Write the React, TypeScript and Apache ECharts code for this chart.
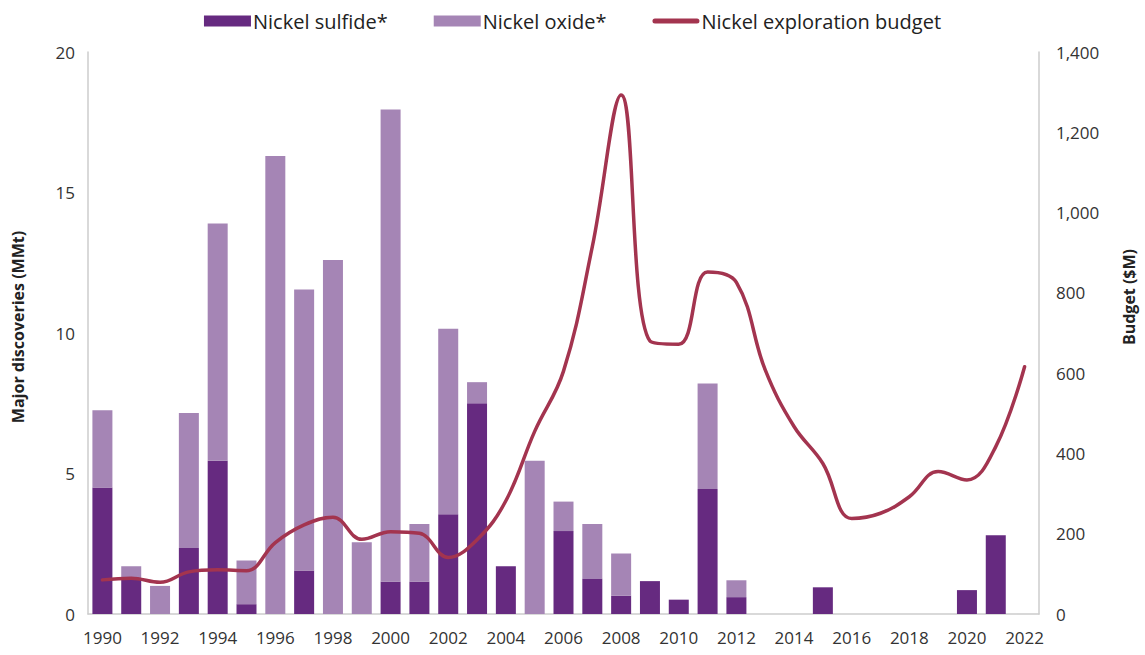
import React, { useEffect, useRef } from "react";
import * as echarts from "echarts";

const years = [
  "1990","1991","1992","1993","1994","1995","1996","1997","1998","1999",
  "2000","2001","2002","2003","2004","2005","2006","2007","2008","2009",
  "2010","2011","2012","2013","2014","2015","2016","2017","2018","2019",
  "2020","2021","2022",
];

const sulfide = [
  4.5, 1.25, 0, 2.35, 5.45, 0.35, 0, 1.55, 0, 0,
  1.15, 1.15, 3.55, 7.5, 1.7, 0, 2.95, 1.25, 0.65, 1.17,
  0.51, 4.45, 0.6, 0, 0, 0.95, 0, 0, 0, 0,
  0.85, 2.8, 0,
];

const oxide = [
  2.75, 0.45, 1.0, 4.8, 8.45, 1.55, 16.3, 10.0, 12.6, 2.55,
  16.8, 2.05, 6.6, 0.75, 0, 5.45, 1.05, 1.95, 1.5, 0,
  0, 3.75, 0.6, 0, 0, 0, 0, 0, 0, 0,
  0, 0, 0,
];

const budget = [
  85, 89, 79, 105, 110, 108, 178, 222, 241, 186,
  205, 201, 141, 185, 282, 455, 605, 915, 1293, 680,
  672, 852, 826, 608, 467, 375, 238, 251, 292, 355,
  334, 417, 616,
];

const FONT = "'Open Sans', Roboto, sans-serif";
const SULFIDE_COLOR = "#662a80";
const OXIDE_COLOR = "#a585b5";
const LINE_COLOR = "#a3344f";

export default function App() {
  const ref = useRef<HTMLDivElement>(null);
  useEffect(() => {
    document.body.style.margin = "0";
    const chart = echarts.init(ref.current!, null, { renderer: "svg" });
    chart.setOption({
      animation: false,
      backgroundColor: "#ffffff",
      textStyle: { fontFamily: FONT },
      legend: {
        top: 6,
        left: "center",
        itemWidth: 47,
        itemHeight: 11,
        itemGap: 46,
        symbolKeepAspect: true,
        textStyle: { fontSize: 20, color: "#222", fontFamily: FONT, padding: [0, 0, 0, -3] },
        data: [
          { name: "Nickel sulfide*", icon: "rect" },
          { name: "Nickel oxide*", icon: "rect" },
          {
            name: "Nickel exploration budget",
            icon: "path://M2.5,0 L44.5,0 A2.5,2.5 0 0 1 44.5,5 L2.5,5 A2.5,2.5 0 0 1 2.5,0 Z",
            itemStyle: { color: LINE_COLOR },
          },
        ],
      },
      grid: { left: 88, right: 100, top: 52, bottom: 41, containLabel: false },
      xAxis: {
        type: "category",
        data: years,
        boundaryGap: true,
        axisLine: { lineStyle: { color: "#cccccc", width: 1.5 } },
        axisTick: { show: false },
        axisLabel: { interval: 1, fontSize: 17, color: "#333", margin: 15, fontFamily: FONT },
      },
      yAxis: [
        {
          type: "value",
          min: 0,
          max: 20,
          interval: 5,
          name: "Major discoveries (MMt)",
          nameLocation: "middle",
          nameGap: 62,
          nameTextStyle: {
            fontSize: 16,
            fontWeight: "bold",
            color: "#222",
            fontFamily: FONT,
            padding: [0, 0, 0, 12],
          },
          axisLine: { show: true, lineStyle: { color: "#cccccc", width: 1.5 } },
          axisTick: { show: false },
          splitLine: { show: false },
          axisLabel: { fontSize: 17, color: "#333", margin: 13, fontFamily: FONT },
        },
        {
          type: "value",
          min: 0,
          max: 1400,
          interval: 200,
          name: "Budget ($M)",
          nameLocation: "middle",
          nameGap: 82,
          nameTextStyle: {
            fontSize: 16,
            fontWeight: "bold",
            color: "#222",
            fontFamily: FONT,
            padding: [0, 0, 0, 72],
          },
          axisLine: { show: true, lineStyle: { color: "#cccccc", width: 1.5 } },
          axisTick: { show: false },
          splitLine: { show: false },
          axisLabel: {
            fontSize: 17,
            color: "#333",
            margin: 17,
            fontFamily: FONT,
            formatter: (v: number) => v.toLocaleString("en-US"),
          },
        },
      ],
      series: [
        {
          name: "Nickel sulfide*",
          type: "bar",
          stack: "disc",
          barWidth: 20,
          itemStyle: { color: SULFIDE_COLOR },
          data: sulfide,
        },
        {
          name: "Nickel oxide*",
          type: "bar",
          stack: "disc",
          barWidth: 20,
          itemStyle: { color: OXIDE_COLOR },
          data: oxide,
        },
        {
          name: "Nickel exploration budget",
          type: "line",
          yAxisIndex: 1,
          smooth: 0.4,
          showSymbol: false,
          symbol: "none",
          lineStyle: { color: LINE_COLOR, width: 3.5, cap: "round", join: "round" },
          itemStyle: { color: LINE_COLOR },
          data: budget,
          z: 5,
        },
      ],
    });
    return () => chart.dispose();
  }, []);
  return <div ref={ref} style={{ width: 1145, height: 655 }} />;
}
